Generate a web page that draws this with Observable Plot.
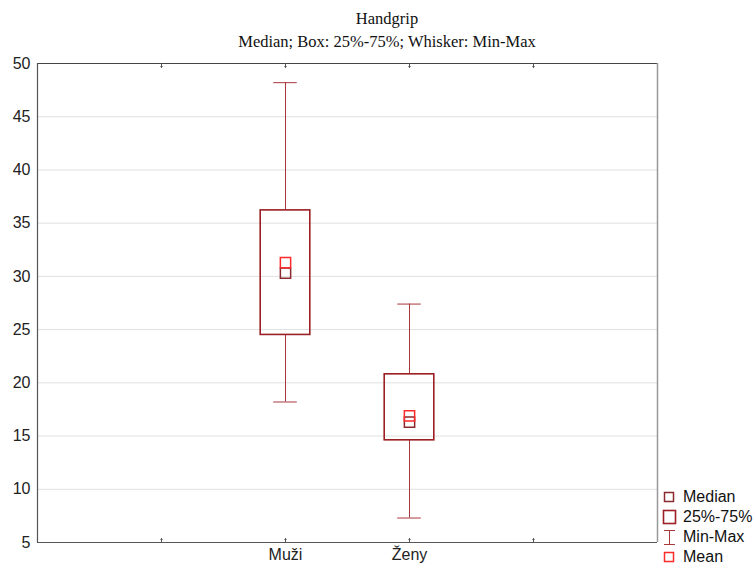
<!DOCTYPE html>
<html>
<head>
<meta charset="utf-8">
<script src="https://cdn.jsdelivr.net/npm/d3@7"></script>
<script src="https://cdn.jsdelivr.net/npm/@observablehq/plot@0.6"></script>
<style>
  html, body { margin: 0; padding: 0; background: #fff; }
  #wrap { position: relative; width: 755px; height: 565px; overflow: hidden; }
  #head { position: relative; height: 52px; font-family: "Liberation Serif", "Times New Roman", serif; font-size: 16.5px; color: #111; }
  #head div { position: absolute; left: 387px; transform: translateX(-50%); white-space: nowrap; }
  #legend { position: absolute; left: 662px; top: 487px; font-family: "Liberation Sans", Arial, sans-serif; font-size: 16px; color: #111; }
  #legend .row { position: relative; height: 20px; line-height: 20px; padding-left: 21px; }
  #legend svg { position: absolute; left: 0; top: 0; }
</style>
</head>
<body>
<div id="wrap">
  <div id="head">
    <div style="top:9px">Handgrip</div>
    <div style="top:32px">Median; Box: 25%-75%; Whisker: Min-Max</div>
  </div>
  <div id="chart"></div>
  <div id="legend"></div>
</div>
<script>
// Handgrip strength by group
const groups = ["Muži", "Ženy"];
const minVals = [18.2, 7.3];
const q1Vals = [24.5, 14.6];
const medianVals = [30.3, 16.3];
const q3Vals = [36.2, 20.8];
const maxVals = [48.2, 27.4];
const meanVals = [31.3, 16.9];
const yTicks = [5, 10, 15, 20, 25, 30, 35, 40, 45, 50];
const xTicks = [1, 2, 3, 4];
const legendLabels = ["Median", "25%-75%", "Min-Max", "Mean"];

const boxColor = "#9b1f24";
const whiskerColor = "#a8383c";
const meanColor = "#ff2a2a";

// each group sits at a slot on a 0..5 category axis
const rows = groups.map((g, i) => ({
  group: g, pos: i + 2,
  min: minVals[i], q1: q1Vals[i], median: medianVals[i],
  q3: q3Vals[i], max: maxVals[i], mean: meanVals[i]
}));

const halfBox = 0.2, halfCap = 0.095;
const [yMin, yMax] = d3.extent(yTicks);

const chart = Plot.plot({
  width: 755,
  height: 513,
  marginTop: 11,
  marginBottom: 23,
  marginLeft: 37,
  marginRight: 98,
  style: { fontFamily: "'Liberation Sans', Arial, sans-serif", fontSize: "16px", color: "#222", background: "#fff" },
  x: { domain: [0, 5], label: null },
  y: { domain: [yMin, yMax], label: null },
  marks: [
    // gridlines
    Plot.ruleY(yTicks.filter(t => t !== yMin && t !== yMax), { stroke: "#e0e0e0", strokeWidth: 1 }),
    // frame
    Plot.ruleY([yMax], { stroke: "#444", strokeWidth: 1.2 }),
    Plot.ruleY([yMin], { stroke: "#555", strokeWidth: 1.2 }),
    Plot.ruleX([0], { stroke: "#555", strokeWidth: 1.2 }),
    Plot.ruleX([5], { stroke: "#999", strokeWidth: 1.5 }),
    // inward ticks on the bottom and top edges
    Plot.vector(xTicks, { x: d => d, y: yMin, length: 4, anchor: "start", rotate: 0, stroke: "#555", strokeWidth: 1 }),
    Plot.vector(xTicks, { x: d => d, y: yMax, length: 4, anchor: "start", rotate: 180, stroke: "#555", strokeWidth: 1 }),
    // axes
    Plot.axisY(yTicks, { tickSize: 0, tickPadding: 7, fontSize: 16, fill: "#222" }),
    Plot.axisX(xTicks, {
      tickSize: 0, tickPadding: 6, fontSize: 16, fill: "#222",
      tickFormat: d => groups[d - 2] ?? ""
    }),
    // whiskers
    Plot.ruleX(rows, { x: "pos", y1: "max", y2: "q3", stroke: whiskerColor, strokeWidth: 1 }),
    Plot.ruleX(rows, { x: "pos", y1: "q1", y2: "min", stroke: whiskerColor, strokeWidth: 1 }),
    Plot.ruleY(rows, { y: "max", x1: d => d.pos - halfCap, x2: d => d.pos + halfCap, stroke: whiskerColor, strokeWidth: 1 }),
    Plot.ruleY(rows, { y: "min", x1: d => d.pos - halfCap, x2: d => d.pos + halfCap, stroke: whiskerColor, strokeWidth: 1 }),
    // boxes
    Plot.rect(rows, { x1: d => d.pos - halfBox, x2: d => d.pos + halfBox, y1: "q1", y2: "q3", fill: "none", stroke: boxColor, strokeWidth: 1.6 }),
    // median and mean markers
    Plot.dot(rows, { x: "pos", y: "median", symbol: "square", r: 5.8, fill: "none", stroke: "#8a2a2e", strokeWidth: 1.5 }),
    Plot.dot(rows, { x: "pos", y: "mean", symbol: "square", r: 5.8, fill: "none", stroke: meanColor, strokeWidth: 1.5 })
  ]
});
document.getElementById("chart").appendChild(chart);

// legend beside the plot's lower-right corner
const icons = [
  `<svg width="16" height="20"><rect x="2.5" y="5.5" width="9" height="9" fill="none" stroke="#8a2a2e" stroke-width="1.5"/></svg>`,
  `<svg width="16" height="20"><rect x="1.5" y="3.5" width="12" height="13" fill="none" stroke="${boxColor}" stroke-width="1.6"/></svg>`,
  `<svg width="16" height="20"><g stroke="${whiskerColor}" stroke-width="1"><line x1="2" x2="13" y1="3.5" y2="3.5"/><line x1="7.5" x2="7.5" y1="3.5" y2="17.5"/><line x1="2" x2="13" y1="17.5" y2="17.5"/></g></svg>`,
  `<svg width="16" height="20"><rect x="2.5" y="5.5" width="9" height="9" fill="none" stroke="${meanColor}" stroke-width="1.5"/></svg>`
];
const legend = document.getElementById("legend");
legendLabels.forEach((label, i) => {
  const row = document.createElement("div");
  row.className = "row";
  row.innerHTML = icons[i] + `<span>${label}</span>`;
  legend.appendChild(row);
});
</script>
</body>
</html>
